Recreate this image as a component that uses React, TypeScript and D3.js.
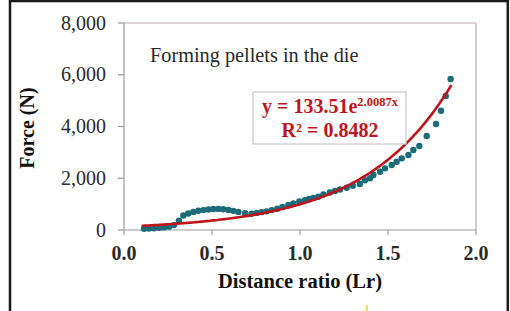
import React from "react";
import * as d3 from "d3";

const lrValues = [0.114, 0.142, 0.170, 0.199, 0.227, 0.256, 0.284, 0.312, 0.337, 0.365, 0.394, 0.422, 0.451, 0.479, 0.507, 0.536, 0.564, 0.593, 0.621, 0.650, 0.688, 0.725, 0.755, 0.782, 0.810, 0.839, 0.871, 0.900, 0.934, 0.962, 0.996, 1.028, 1.052, 1.076, 1.104, 1.133, 1.170, 1.199, 1.227, 1.265, 1.300, 1.340, 1.369, 1.398, 1.417, 1.455, 1.483, 1.521, 1.549, 1.578, 1.616, 1.644, 1.678, 1.720, 1.773, 1.801, 1.828, 1.856];
const forceValues = [50, 55, 70, 85, 100, 130, 190, 360, 560, 640, 700, 745, 770, 795, 810, 815, 800, 775, 740, 700, 650, 630, 660, 690, 720, 770, 820, 895, 970, 1030, 1100, 1155, 1200, 1235, 1285, 1370, 1450, 1510, 1565, 1630, 1710, 1780, 1920, 2000, 2126, 2254, 2383, 2512, 2640, 2770, 2899, 3092, 3246, 3633, 4097, 4611, 5179, 5836];

const xTicks = [0, 0.5, 1.0, 1.5, 2.0];
const yTicks = [0, 2000, 4000, 6000, 8000];
const fitA = 133.51;
const fitB = 2.0087;
const fitRange = [0.1, 1.86];

const serif = "'Liberation Serif', 'Times New Roman', serif";

export default function App() {
  const x = d3.scaleLinear().domain([0, 2]).range([124, 476]);
  const y = d3.scaleLinear().domain([0, 8000]).range([230, 23]);
  const fitPts = d3.range(fitRange[0], fitRange[1] + 0.0001, 0.01).map((v) => [v, fitA * Math.exp(fitB * v)] as [number, number]);
  const line = d3.line<[number, number]>().x((d) => x(d[0])).y((d) => y(d[1])).curve(d3.curveLinear);
  const fmt = d3.format(",");
  return (
    <svg width={510} height={311} style={{ position: "absolute", left: 0, top: 0, background: "#fff" }} fontFamily={serif}>
      <rect x={0} y={0} width={510} height={311} fill="#ffffff" />
      {/* outer frame */}
      <line x1={10} y1={0} x2={10} y2={311} stroke="#1a1a1a" strokeWidth={2.5} />
      <line x1={9} y1={1} x2={509} y2={1} stroke="#1a1a1a" strokeWidth={2.5} />
      <line x1={507.8} y1={0} x2={507.8} y2={311} stroke="#1a1a1a" strokeWidth={2.5} />
      <line x1={367} y1={305} x2={367} y2={311} stroke="#f2c200" strokeWidth={1.2} />
      {/* plot box */}
      <line x1={x(0)} y1={y(8000)} x2={x(2)} y2={y(8000)} stroke="#b7a8b0" strokeWidth={1.2} />
      <line x1={x(2)} y1={y(8000)} x2={x(2)} y2={y(0)} stroke="#b7a8b0" strokeWidth={1.2} />
      <line x1={x(0)} y1={y(8000)} x2={x(0)} y2={y(0)} stroke="#9a9a9a" strokeWidth={1.2} />
      <line x1={x(0)} y1={y(0)} x2={x(2)} y2={y(0)} stroke="#9a9a9a" strokeWidth={1.2} />
      {yTicks.map((t) => (
        <g key={"y" + t}>
          <line x1={x(0) - 6} x2={x(0)} y1={y(t)} y2={y(t)} stroke="#9a9a9a" strokeWidth={1.2} />
          <text x={106} y={y(t) + 6.5} textAnchor="end" fontSize={20} fill="#2a2a2a">{fmt(t)}</text>
        </g>
      ))}
      {xTicks.map((t) => (
        <g key={"x" + t}>
          <line x1={x(t)} x2={x(t)} y1={y(0)} y2={y(0) + 5} stroke="#9a9a9a" strokeWidth={1.2} />
          <text x={x(t)} y={260} textAnchor="middle" fontSize={20} fontWeight="bold" fill="#2a2a2a">{d3.format(".1f")(t)}</text>
        </g>
      ))}
      <text x={300} y={288} textAnchor="middle" fontSize={20.5} fontWeight="bold" fill="#111">Distance ratio (Lr)</text>
      <text transform={`translate(34,128) rotate(-90)`} textAnchor="middle" fontSize={20} fontWeight="bold" fill="#111">Force (N)</text>
      <text x={150} y={62} fontSize={20.3} fill="#2a2a2a">Forming pellets in the die</text>
      {/* data */}
      {lrValues.map((v, i) => (
        <circle key={i} cx={x(v)} cy={y(forceValues[i])} r={3.2} fill="#1b6b78" />
      ))}
      <path d={line(fitPts) || ""} fill="none" stroke="#c0141c" strokeWidth={2.6} />
      {/* equation box */}
      <rect x={253} y={92} width={153} height={52} fill="#ffffff" stroke="#c8c8c8" strokeWidth={1.2} />
      <text x={330} y={113} textAnchor="middle" fontSize={20} fontWeight="bold" fill="#c0141c">
        y = 133.51e<tspan fontSize={12.5} dy={-7}>2.0087x</tspan>
      </text>
      <text x={330} y={137} textAnchor="middle" fontSize={20} fontWeight="bold" fill="#c0141c">R² = 0.8482</text>
    </svg>
  );
}
